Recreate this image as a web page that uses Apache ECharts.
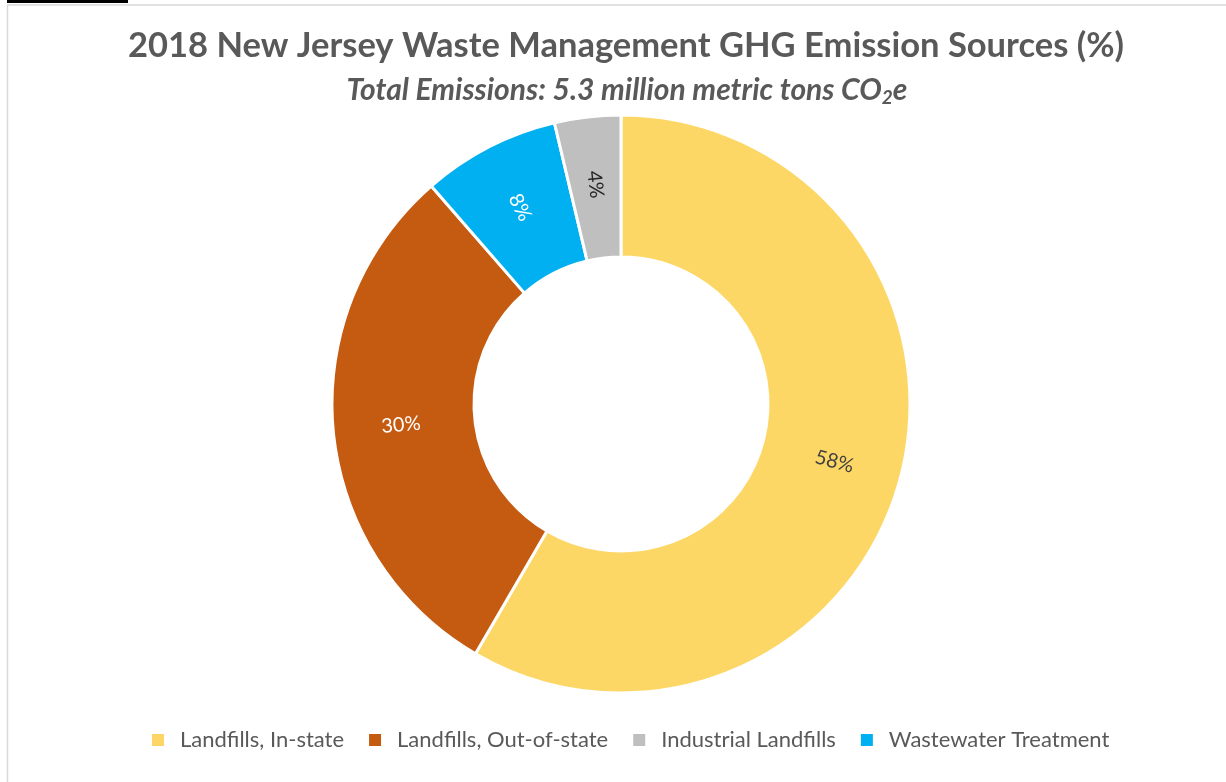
<!DOCTYPE html>
<html>
<head>
<meta charset="utf-8">
<script src="https://cdn.jsdelivr.net/npm/echarts@6/dist/echarts.min.js"></script>
<style>
html,body{margin:0;padding:0;background:#fff;}
#chart{width:1226px;height:782px;}
</style>
</head>
<body>
<div id="chart"></div>
<script>
const categories = ['Landfills, In-state', 'Landfills, Out-of-state', 'Wastewater Treatment', 'Industrial Landfills'];
const values = [58.4, 30.2, 7.7, 3.7];
const legendOrder = ['Landfills, In-state', 'Landfills, Out-of-state', 'Industrial Landfills', 'Wastewater Treatment'];
const colors = ['#FDD766', '#C55A11', '#00B0F0', '#BFBFBF'];
const labelColors = ['#404040', '#ffffff', '#ffffff', '#262626'];

const chart = echarts.init(document.getElementById('chart'));
const FONT = 'Lato, "Open Sans", sans-serif';
chart.setOption({
  animation: false,
  backgroundColor: '#fff',
  color: colors,
  title: [
    {
      text: '2018 New Jersey Waste Management GHG Emission Sources (%)',
      left: 621, textAlign: 'center', top: 23,
      textStyle: { fontFamily: FONT, fontSize: 34.5, fontWeight: 'bold', color: '#595959' }
    },
    {
      text: '{m|Total Emissions: 5.3 million metric tons CO}{s|2}{m|e}',
      left: 622, textAlign: 'center', top: 64,
      textStyle: {
        rich: {
          m: { fontFamily: FONT, fontSize: 30, fontWeight: 'bold', fontStyle: 'italic', color: '#595959', lineHeight: 36, verticalAlign: 'bottom' },
          s: { fontFamily: FONT, fontSize: 19, fontWeight: 'bold', fontStyle: 'italic', color: '#595959', lineHeight: 22, verticalAlign: 'bottom', height: 14 }
        }
      }
    }
  ],
  legend: {
    data: legendOrder,
    top: 724,
    left: 145,
    icon: 'rect',
    itemWidth: 14,
    itemHeight: 14,
    itemGap: 23,
    textStyle: { fontFamily: FONT, fontSize: 22, color: '#595959', padding: [0, 0, 0, 10] }
  },
  graphic: [
    { type: 'rect', shape: { x: 7, y: 0, width: 121, height: 3 }, style: { fill: '#000' } },
    { type: 'line', shape: { x1: 7, y1: 5, x2: 1226, y2: 5 }, style: { stroke: '#d9d9d9', lineWidth: 1.5 } },
    { type: 'line', shape: { x1: 7.5, y1: 5, x2: 7.5, y2: 782 }, style: { stroke: '#d9d9d9', lineWidth: 1.5 } }
  ],
  series: [{
    type: 'pie',
    center: [621, 404],
    radius: [147, 289],
    startAngle: 90,
    clockwise: true,
    avoidLabelOverlap: false,
    itemStyle: { borderColor: '#fff', borderWidth: 3 },
    label: {
      show: true,
      position: 'inside',
      rotate: 'radial',
      fontFamily: FONT,
      fontSize: 20,
      formatter: p => Math.round(p.value) + '%'
    },
    labelLine: { show: false },
    emphasis: { disabled: true },
    data: categories.map((c, i) => ({
      name: c,
      value: values[i],
      label: { color: labelColors[i] }
    }))
  }]
});
</script>
</body>
</html>
